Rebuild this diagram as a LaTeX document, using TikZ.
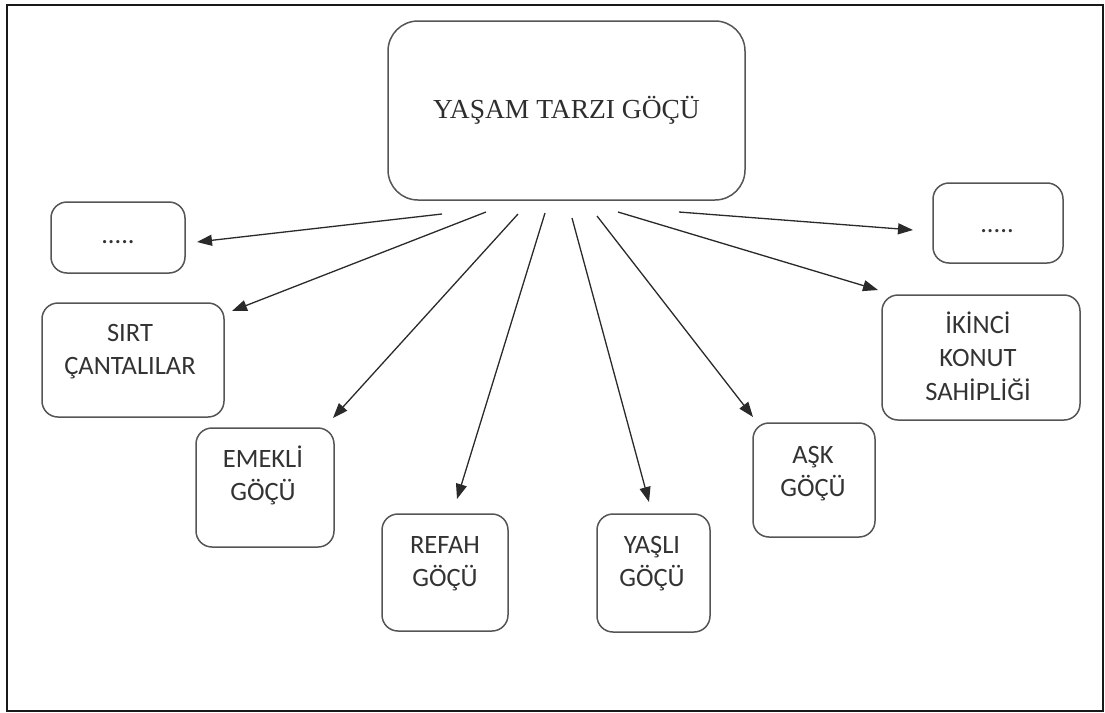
\documentclass[tikz,border=0pt]{standalone}
\usepackage{fontspec}
\setmainfont{Liberation Serif}
\newfontfamily\boxfont{Carlito}
\usetikzlibrary{arrows.meta}
\definecolor{boxgray}{HTML}{555555}
\definecolor{arrgray}{HTML}{2A2A2A}
\definecolor{txtgray}{HTML}{333333}
\definecolor{maintxt}{HTML}{2E2E2E}
\begin{document}
\begin{tikzpicture}[x=1pt,y=-1pt,
  box/.style 2 args={draw=boxgray, line width=1.5pt, rounded corners=16pt, inner sep=0pt,
    minimum width=#1, minimum height=#2},
  mainbox/.style={draw=boxgray, line width=1.5pt, rounded corners=30pt, inner sep=0pt,
    minimum width=357, minimum height=179, text=maintxt, font=\fontsize{27.5}{30}\selectfont},
  lbl/.style={inner sep=0pt, anchor=base, text=txtgray, font=\boxfont\fontsize{26.5}{33.5}\selectfont},
  arr/.style={draw=arrgray, line width=1.3pt, -{Triangle[length=15pt,width=11pt]}},
  frame/.style={draw=black!90, line width=2.5pt}]
\useasboundingbox (0,0) rectangle (1105,712);
\draw[frame] (7,5) rectangle (1103,711);

% main node
\node[mainbox] (main) at (566.5,110.5) {YAŞAM TARZI GÖÇÜ};

% boxes
\node[box={134}{71}]  (dotsL)  at (118,237.5) {};
\node[box={182}{114}] (sirt)   at (133,360) {};
\node[box={138}{119}] (emekli) at (265,487.5) {};
\node[box={126}{117}] (refah)  at (445,572.5) {};
\node[box={113}{118}] (yasli)  at (653.5,573) {};
\node[box={122}{114}] (ask)    at (814,480) {};
\node[box={130}{80}]  (dotsR)  at (998,223) {};
\node[box={198}{125}] (ikinci) at (981,357.5) {};

% labels
\node[lbl] (dotsLT)  at (118,243) {.....};
\node[lbl] (sirtT)   at (130,341) {\begin{tabular}[t]{@{}c@{}}SIRT\\ÇANTALILAR\end{tabular}};
\node[lbl] (emekliT) at (263,467) {\begin{tabular}[t]{@{}c@{}}EMEKLİ\\GÖÇÜ\end{tabular}};
\node[lbl] (refahT)  at (445,553) {\begin{tabular}[t]{@{}c@{}}REFAH\\GÖÇÜ\end{tabular}};
\node[lbl] (yasliT)  at (652,553) {\begin{tabular}[t]{@{}c@{}}YAŞLI\\GÖÇÜ\end{tabular}};
\node[lbl] (askT)    at (813,463) {\begin{tabular}[t]{@{}c@{}}AŞK\\GÖÇÜ\end{tabular}};
\node[lbl] (dotsRT)  at (997,232) {.....};
\node[lbl] (ikinciT) at (978,333) {\begin{tabular}[t]{@{}c@{}}İKİNCİ\\KONUT\\SAHİPLİĞİ\end{tabular}};

% connector end points
\coordinate (s1) at (442,214); \coordinate (t1) at (197,242);
\coordinate (s2) at (486,212); \coordinate (t2) at (232,311);
\coordinate (s3) at (518,214); \coordinate (t3) at (333,418);
\coordinate (s4) at (545,213); \coordinate (t4) at (457,499);
\coordinate (s5) at (572,218); \coordinate (t5) at (649,502);
\coordinate (s6) at (597,216); \coordinate (t6) at (753,417);
\coordinate (s7) at (618,212); \coordinate (t7) at (878,290);
\coordinate (s8) at (679,212); \coordinate (t8) at (913,230);

\draw[arr] (s1) -- (t1);
\draw[arr] (s2) -- (t2);
\draw[arr] (s3) -- (t3);
\draw[arr] (s4) -- (t4);
\draw[arr] (s5) -- (t5);
\draw[arr] (s6) -- (t6);
\draw[arr] (s7) -- (t7);
\draw[arr] (s8) -- (t8);
\end{tikzpicture}
\end{document}
